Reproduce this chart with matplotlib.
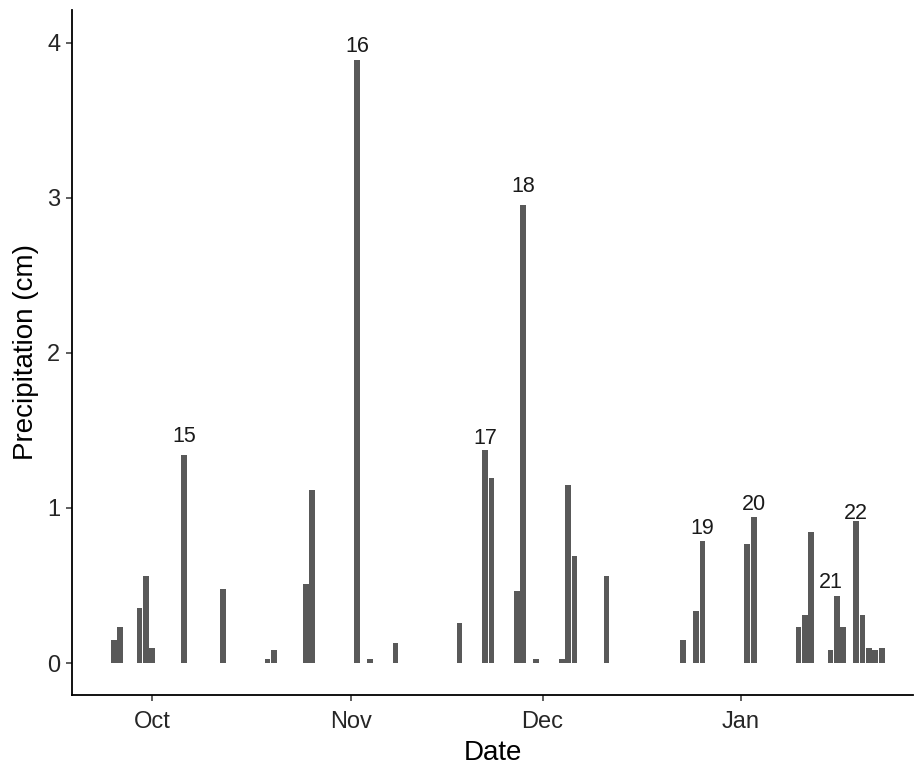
import matplotlib
matplotlib.use("Agg")
import matplotlib.pyplot as plt
import matplotlib.dates as mdates
import numpy as np
import pandas as pd

# ---- data ----
dates = ["2015-09-25", "2015-09-26", "2015-09-29", "2015-09-30", "2015-10-01",
         "2015-10-06", "2015-10-12", "2015-10-19", "2015-10-20", "2015-10-25",
         "2015-10-26", "2015-11-02", "2015-11-04", "2015-11-08", "2015-11-18",
         "2015-11-22", "2015-11-23", "2015-11-27", "2015-11-28", "2015-11-30",
         "2015-12-04", "2015-12-05", "2015-12-06", "2015-12-11", "2015-12-23",
         "2015-12-25", "2015-12-26", "2016-01-02", "2016-01-03", "2016-01-10",
         "2016-01-11", "2016-01-12", "2016-01-15", "2016-01-16", "2016-01-17",
         "2016-01-19", "2016-01-20", "2016-01-21", "2016-01-22", "2016-01-23"]
precip = [0.148, 0.23, 0.356, 0.56, 0.10,
          1.342, 0.48, 0.024, 0.084, 0.51,
          1.117, 3.889, 0.024, 0.13, 0.26,
          1.374, 1.196, 0.463, 2.95, 0.024,
          0.024, 1.149, 0.688, 0.564, 0.15,
          0.336, 0.785, 0.767, 0.941, 0.23,
          0.307, 0.845, 0.084, 0.433, 0.23,
          0.913, 0.307, 0.10, 0.084, 0.10]

event_labels = ["15", "16", "17", "18", "19", "20", "21", "22"]
event_dates = ["2015-10-06", "2015-11-02", "2015-11-22", "2015-11-28",
               "2015-12-26", "2016-01-03", "2016-01-15", "2016-01-19"]
event_y = [1.428, 3.938, 1.413, 3.037, 0.834, 0.984, 0.484, 0.931]

yticks = [0, 1, 2, 3, 4]
xtick_dates = ["2015-10-01", "2015-11-01", "2015-12-01", "2016-01-01"]
xtick_labels = ["Oct", "Nov", "Dec", "Jan"]

# ---- plot ----
plt.rcParams['font.family'] = ['Liberation Sans', 'DejaVu Sans']
W, H, DPI = 914, 770, 100
fig = plt.figure(figsize=(W / DPI, H / DPI), dpi=DPI)
ax = fig.add_axes([72 / W, (H - 695) / H, (913 - 72) / W, (695 - 10) / H])

x = mdates.date2num(pd.to_datetime(dates))
ax.bar(x, precip, width=0.9, color="#595959", linewidth=0)

ex = mdates.date2num(pd.to_datetime(event_dates))
for lab, xx, yy in zip(event_labels, ex, event_y):
    ax.text(xx, yy, lab, ha="center", va="baseline", fontsize=15.5, color="#1a1a1a")

oct1 = mdates.date2num(pd.Timestamp("2015-10-01"))
ax.set_xlim(oct1 - 12.55, oct1 + 118.9)
ax.set_ylim(-0.206, 4.21)

ax.set_yticks(yticks)
ax.set_yticklabels([str(v) for v in yticks])
ax.set_xticks(mdates.date2num(pd.to_datetime(xtick_dates)))
ax.set_xticklabels(xtick_labels)

for s in ["top", "right"]:
    ax.spines[s].set_visible(False)
for s in ["left", "bottom"]:
    ax.spines[s].set_linewidth(1.3)
    ax.spines[s].set_color("black")

ax.tick_params(axis="both", length=4, width=1.1, color="#333333",
               labelsize=17, labelcolor="#262626")
ax.tick_params(axis="x", pad=7.5)
ax.tick_params(axis="y", pad=4.5)

ax.set_xlabel("Date", fontsize=20, color="black", labelpad=5)
ax.set_ylabel("Precipitation (cm)", fontsize=20, color="black", labelpad=6)

fig.savefig("out.png", dpi=DPI)
